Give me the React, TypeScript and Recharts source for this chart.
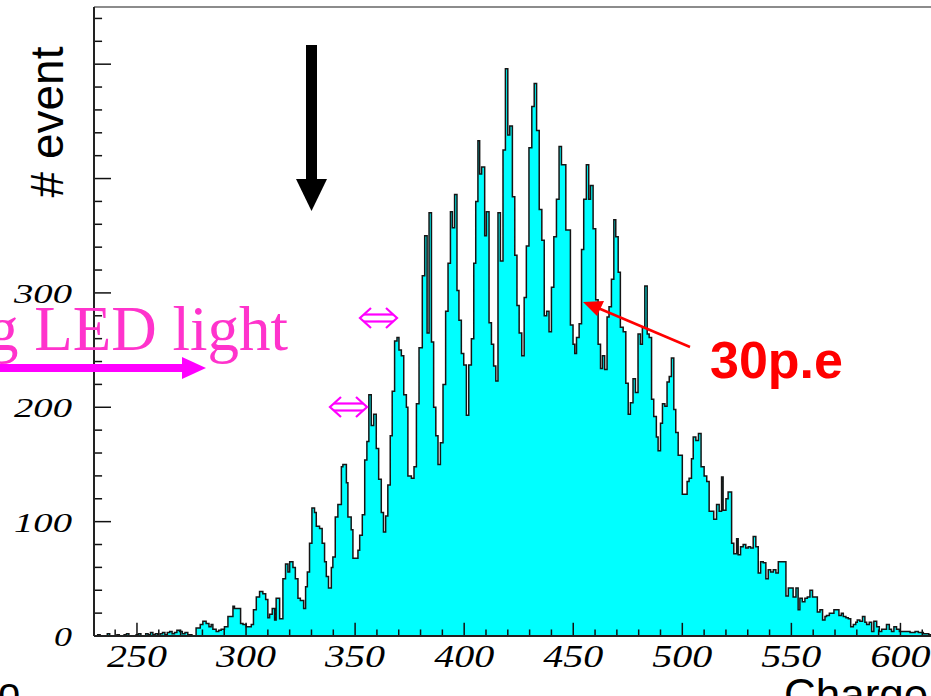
import React from "react";
import { AreaChart, Area, XAxis, YAxis, ReferenceLine } from "recharts";

// [bin start, entries], region by region
const tailLow: [number, number][] = [
  [230.0, 0], [232.0, 1], [233.1, 0], [236.4, 2], [237.5, 0], [240.8, 1], [241.9, 0],
  [244.1, 1], [245.2, 2], [246.3, 0], [249.6, 1], [250.7, 2], [251.8, 0], [254.0, 2],
  [255.1, 1], [256.2, 3], [257.3, 1], [258.4, 2], [259.5, 0], [260.6, 2], [261.7, 3],
  [262.8, 1], [263.9, 3], [265.0, 4], [266.1, 2], [267.2, 3], [268.3, 5],
];

const risingEdge: [number, number][] = [
  [269.5, 4], [270.8, 2], [272.0, 3], [273.3, 1], [275.2, 0], [277.1, 7], [279.0, 10],
  [280.2, 13], [281.7, 11], [283.0, 8], [284.0, 10], [284.8, 6], [286.3, 4], [287.5, 5],
  [288.6, 6], [290.1, 8], [291.7, 17], [294.0, 26], [294.7, 24], [297.5, 11], [298.6, 10],
  [300.1, 8], [302.4, 10], [303.4, 23], [304.7, 34], [306.2, 39], [307.7, 37], [309.0, 32],
  [310.0, 16], [310.8, 19], [312.0, 24], [313.1, 14], [313.8, 33], [315.4, 15], [316.9, 50],
  [318.1, 63], [319.2, 56], [320.0, 65], [321.5, 60], [322.6, 50], [323.8, 33], [324.9, 31],
  [326.4, 24], [327.3, 43], [328.1, 56], [329.1, 81], [330.2, 112], [331.4, 108], [332.2, 96],
  [333.7, 94], [334.9, 81], [336.0, 65], [336.8, 52], [337.8, 42], [339.1, 60], [339.8, 69],
  [340.9, 104], [342.1, 115], [343.7, 148], [344.4, 150], [346.0, 134], [346.7, 104],
  [348.2, 93], [349.0, 68], [351.3, 75], [352.1, 88], [353.3, 106], [354.4, 154], [355.4, 170],
];

const peakRegion: [number, number][] = [
  [356.3, 211], [357.4, 184], [358.5, 194], [359.7, 164], [360.8, 137], [362.0, 108],
  [363.0, 91], [364.0, 105], [365.0, 132], [366.1, 175], [367.0, 214], [368.1, 258],
  [369.2, 261], [370.1, 250], [371.2, 245], [372.3, 211], [373.5, 200], [374.2, 140],
  [375.8, 138], [377.0, 148], [378.1, 203], [379.3, 252], [380.8, 315], [381.9, 350],
  [383.0, 265], [383.9, 370], [385.0, 257], [386.0, 200], [387.0, 175], [388.0, 150],
  [389.1, 169], [390.3, 220], [391.5, 284], [392.6, 326], [393.7, 371], [394.6, 357],
  [395.6, 386], [396.7, 302], [397.6, 276], [398.7, 247], [399.8, 237], [401.0, 193],
  [402.1, 237], [403.3, 260], [404.4, 326], [405.3, 380], [406.3, 433], [407.1, 404],
  [408.0, 410], [409.4, 350], [410.2, 371], [411.4, 274], [412.5, 255], [413.5, 236],
  [414.5, 223], [415.5, 370], [416.6, 328], [417.8, 425], [418.9, 496], [420.0, 438],
  [420.9, 446], [422.1, 384], [423.2, 333], [424.2, 289], [425.2, 265],
];

const fallingEdge: [number, number][] = [
  [426.4, 245], [427.5, 296], [428.5, 341], [429.7, 427], [431.0, 463], [432.1, 483],
  [433.2, 442], [434.4, 373], [435.6, 346], [436.7, 280], [437.8, 284], [438.9, 266],
  [440.0, 305], [441.1, 349], [442.3, 382], [443.5, 428], [444.6, 412], [446.6, 355],
  [448.7, 272], [449.9, 255], [450.7, 247], [451.5, 261], [452.7, 273], [453.8, 338],
  [454.8, 382], [456.0, 412], [457.1, 382], [457.9, 394], [459.1, 356], [460.3, 294],
  [461.4, 255], [462.5, 234], [463.4, 245], [464.4, 233], [465.5, 279], [466.4, 288],
  [467.5, 312], [468.6, 364], [469.5, 349], [470.6, 318], [471.6, 270], [472.9, 266],
  [474.1, 221], [475.2, 194], [476.2, 204], [477.4, 225], [478.5, 213], [479.7, 264],
  [480.8, 255], [481.7, 270], [482.8, 306], [483.9, 264], [484.8, 261], [485.9, 207],
  [486.9, 192], [488.1, 174], [488.9, 162], [490.0, 186], [490.9, 203], [492.0, 201],
  [493.0, 222], [494.0, 227], [495.0, 243], [496.1, 198], [497.0, 178], [498.1, 158],
];

const tailHigh: [number, number][] = [
  [500.0, 124], [502.2, 135], [503.1, 138], [504.2, 155], [505.0, 174], [506.2, 171],
  [507.4, 177], [508.6, 148], [510.0, 140], [511.2, 135], [512.3, 109], [514.4, 102],
  [515.7, 115], [516.9, 109], [518.0, 139], [518.7, 110], [520.0, 120], [521.0, 126],
  [522.6, 81], [523.6, 72], [524.9, 85], [525.6, 71], [526.7, 78], [527.9, 80], [529.1, 77],
  [530.2, 78], [531.3, 77], [532.5, 87], [533.7, 78], [534.8, 55], [535.9, 65], [537.1, 64],
  [538.3, 50], [539.4, 58], [540.5, 56], [541.7, 58], [542.9, 55], [544.0, 65], [547.5, 35],
  [548.6, 42], [550.8, 34], [552.1, 42], [553.1, 23], [553.9, 33], [555.0, 30], [556.2, 33],
  [557.3, 34], [558.5, 40], [559.7, 34], [561.9, 21], [563.1, 23], [564.3, 14], [565.4, 17],
  [566.1, 18], [567.4, 20], [569.5, 23], [571.8, 18], [572.9, 20], [573.8, 17], [575.0, 16],
  [576.1, 15], [577.2, 8], [578.4, 10], [579.5, 12], [580.2, 14], [581.4, 13], [582.6, 17],
  [583.7, 12], [584.5, 10], [585.7, 12], [586.8, 4], [587.8, 13], [589.1, 8], [590.3, 4],
  [591.4, 6], [593.6, 10], [594.9, 6], [595.9, 4], [597.0, 8], [598.2, 6], [599.5, 4],
  [601.3, 4], [604.4, 3], [606.7, 4], [608.2, 3], [610.5, 2], [613.0, 1], [616.0, 2],
  [620.0, 1], [627.3, 1],
];

const xLabels = [250, 300, 350, 400, 450, 500, 550, 600];
const yLabels = [0, 100, 200, 300];
const xTicks = [
  240, 250, 260, 270, 280, 290, 300, 310, 320, 330, 340, 350, 360, 370, 380, 390, 400,
  410, 420, 430, 440, 450, 460, 470, 480, 490, 500, 510, 520, 530, 540, 550, 560, 570,
  580, 590, 600, 610, 620,
];
const yTicks = [
  20, 40, 60, 80, 100, 120, 140, 160, 180, 200, 220, 240, 260, 280, 300, 320, 340, 360,
  380, 400, 420, 440, 460, 480, 500, 520, 540,
];

const data = [...tailLow, ...risingEdge, ...peakRegion, ...fallingEdge, ...tailHigh].map(
  ([x, n]) => ({ x, n })
);

const X_MIN = 230.3;
const X_MAX = 627.3;
const Y_MAX = 550;

const serif = "'Liberation Serif', 'Times New Roman', serif";
const sans = "'Liberation Sans', Arial, sans-serif";

function XTick(props: any) {
  const { x, y, payload } = props;
  return (
    <text
      x={x}
      y={y + 31}
      textAnchor="middle"
      fontFamily={serif}
      fontStyle="italic"
      fontSize={31}
      textLength={60}
      lengthAdjust="spacingAndGlyphs"
      fill="#000"
    >
      {payload.value}
    </text>
  );
}

function YTick(props: any) {
  const { x, y, payload } = props;
  const label = String(payload.value);
  return (
    <text
      x={x}
      y={y + 10}
      textAnchor="end"
      fontFamily={serif}
      fontStyle="italic"
      fontSize={28}
      textLength={label.length === 1 ? 18 : 58}
      lengthAdjust="spacingAndGlyphs"
      fill="#000"
    >
      {label}
    </text>
  );
}

function DoubleArrow({ x, y }: { x: number; y: number }) {
  // small outlined "<=>" marker, x = left tip, y = centre
  const w = 37;
  return (
    <g stroke="#ff00ff" strokeWidth={2.2} fill="none">
      <polyline points={`${x + 11},${y - 10} ${x},${y} ${x + 11},${y + 10}`} />
      <polyline points={`${x + w - 11},${y - 10} ${x + w},${y} ${x + w - 11},${y + 10}`} />
      <line x1={x + 4} y1={y - 3.5} x2={x + w - 4} y2={y - 3.5} />
      <line x1={x + 4} y1={y + 3.5} x2={x + w - 4} y2={y + 3.5} />
    </g>
  );
}

export default function App() {
  return (
    <div
      style={{
        position: "absolute",
        left: 0,
        top: 0,
        width: 931,
        height: 696,
        overflow: "hidden",
        background: "#fff",
      }}
    >
      <AreaChart width={960} height={696} data={data} margin={{ top: 7, right: 0, bottom: 0, left: 0 }}>
        <XAxis
          type="number"
          dataKey="x"
          domain={[X_MIN, X_MAX]}
          allowDataOverflow
          ticks={xLabels}
          interval={0}
          height={60}
          tickLine={false}
          tickSize={0}
          tickMargin={0}
          axisLine={{ stroke: "#222", strokeWidth: 2 }}
          tick={<XTick />}
        />
        <YAxis
          type="number"
          domain={[0, Y_MAX]}
          allowDataOverflow
          ticks={yLabels}
          interval={0}
          width={94}
          tickLine={false}
          tickSize={0}
          tickMargin={22}
          axisLine={{ stroke: "#222", strokeWidth: 2 }}
          tick={<YTick />}
        />
        <Area
          type="stepAfter"
          dataKey="n"
          stroke="#151515"
          strokeWidth={1.5}
          fill="#00ffff"
          fillOpacity={1}
          dot={false}
          activeDot={false}
          isAnimationActive={false}
        />
        <ReferenceLine y={Y_MAX} stroke="#666" strokeWidth={1.5} />
        {xTicks.map((v) => (
          <ReferenceLine
            key={`xt${v}`}
            segment={[
              { x: v, y: 0 },
              { x: v, y: v % 50 === 0 ? 11.5 : 5.7 },
            ]}
            stroke="#111"
            strokeWidth={1.5}
          />
        ))}
        {yTicks.map((v) => (
          <ReferenceLine
            key={`yt${v}`}
            segment={[
              { x: X_MIN, y: v },
              { x: X_MIN + (v % 100 === 0 ? 7.8 : 3.7), y: v },
            ]}
            stroke="#111"
            strokeWidth={1.5}
          />
        ))}
      </AreaChart>

      <svg
        width={931}
        height={696}
        style={{ position: "absolute", left: 0, top: 0, pointerEvents: "none" }}
      >
        <text
          transform="translate(63,122) rotate(-90)"
          textAnchor="middle"
          fontFamily={sans}
          fontSize={46}
          fill="#000"
        >
          # event
        </text>

        <rect x={306} y={45} width={11} height={135} fill="#000" />
        <polygon points="296,179 327,179 311.5,211" fill="#000" />

        <text x={288} y={350} textAnchor="end" fontFamily={serif} fontSize={63} fill="#ff33cc">
          ing LED light
        </text>
        <rect x={0} y={364} width={186} height={8} fill="#ff00ff" />
        <polygon points="182,357 206,368 182,379" fill="#ff00ff" />

        <DoubleArrow x={360} y={318} />
        <DoubleArrow x={330} y={407} />

        <line x1={690} y1={347} x2={598} y2={308} stroke="#ff0000" strokeWidth={2.5} />
        <polygon points="583,302 604,301 597,316" fill="#ff0000" />
        <text x={710} y={378} fontFamily={sans} fontWeight="bold" fontSize={52} fill="#ff0000">
          30p.e
        </text>

        <text x={784} y={710} fontFamily={sans} fontSize={44} fill="#000">
          Charge
        </text>
        <text x={-2} y={706} fontFamily={sans} fontSize={40} fill="#000">
          o
        </text>
      </svg>
    </div>
  );
}
